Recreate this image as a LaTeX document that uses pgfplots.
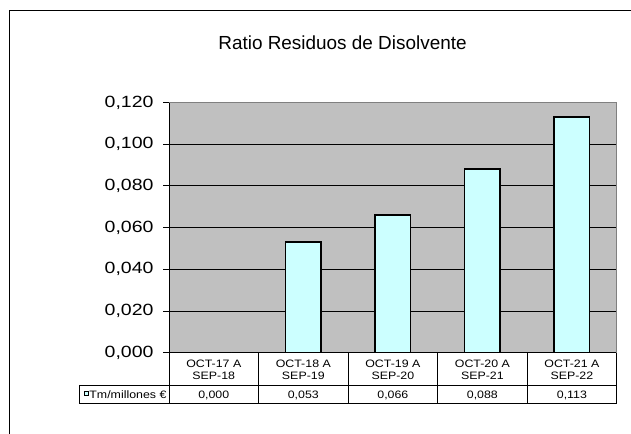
\documentclass[border=0pt]{standalone}
\usepackage{fontspec}
\setmainfont{Liberation Sans}
\newfontfamily\tickfont[FakeStretch=1.2]{Liberation Sans}
\newfontfamily\tabfont[FakeStretch=1.15]{Liberation Sans}
\usepackage{pgfplots}
\pgfplotsset{compat=1.18}
\definecolor{plotgray}{HTML}{C0C0C0}
\definecolor{barcyan}{HTML}{CCFFFF}
\definecolor{bordergray}{HTML}{808080}
\begin{document}
\begin{tikzpicture}[x=1bp,y=1bp]
\path[use as bounding box] (0,0) rectangle (631,434);
\draw[line width=1bp] (9.5,0) -- (9.5,423) -- (631,423);
\node[font=\fontsize{19}{22}\selectfont, anchor=base, inner sep=0pt] at (342.5,384) {Ratio Residuos de Disolvente};
\begin{axis}[
  at={(169bp,81.3bp)}, anchor=south west,
  width=447.7bp, height=250.2bp, scale only axis,
  xmin=-0.5, xmax=4.5, ymin=0, ymax=0.12,
  xtick=\empty,
  ytick={0,0.02,0.04,0.06,0.08,0.1,0.12},
  /pgf/number format/fixed, /pgf/number format/fixed zerofill,
  /pgf/number format/precision=3, /pgf/number format/use comma,
  /pgf/number format/assume math mode=true,
  yticklabel style={font=\tickfont\fontsize{16.3}{19}\selectfont, xshift=-6bp},
  tick align=outside, major tick length=6bp,
  ymajorgrids, grid style={black, line width=0.8bp},
  axis background/.style={fill=plotgray},
  axis x line*=bottom, axis y line*=left,
  axis line style={black, line width=1bp, -},
  ytick style={black, line width=0.8bp},
  ybar, bar width=0.397,
  clip=false,
]
\addplot[fill=barcyan, draw=black, line width=1.5bp] coordinates {(0,0) (1,0.053) (2,0.066) (3,0.088) (4,0.113)};
\draw[bordergray, line width=1.2bp] (rel axis cs:0,1) -- (rel axis cs:1,1) -- (rel axis cs:1,0);
\end{axis}
% data table
\foreach \k in {0,...,5} {\draw[line width=0.8bp] (169+\k*89.54,81.3) -- (169+\k*89.54,30.7);}
\draw[line width=0.8bp] (79.3,49) -- (616.7,49);
\draw[line width=0.8bp] (79.3,30.7) -- (616.7,30.7);
\draw[line width=0.8bp] (79.3,49) -- (79.3,30.7);
\foreach \k/\a/\b/\v in {0/OCT-17 A/SEP-18/{0,000},1/OCT-18 A/SEP-19/{0,053},2/OCT-19 A/SEP-20/{0,066},3/OCT-20 A/SEP-21/{0,088},4/OCT-21 A/SEP-22/{0,113}} {
  \node[font=\tabfont\fontsize{10.8}{12}\selectfont, anchor=base, inner sep=0pt] at (169+\k*89.54+44.77,66.7) {\a};
  \node[font=\tabfont\fontsize{10.8}{12}\selectfont, anchor=base, inner sep=0pt] at (169+\k*89.54+44.77,54.7) {\b};
  \node[font=\tabfont\fontsize{10.8}{12}\selectfont, anchor=base, inner sep=0pt] at (169+\k*89.54+44.77,35) {\v};
}
\draw[fill=barcyan, line width=0.9bp] (84.2,38.2) rectangle (88.4,42.4);
\node[font=\tabfont\fontsize{10.8}{12}\selectfont, anchor=base west, inner sep=0pt] at (89.2,35) {Tm/millones €};
\end{tikzpicture}
\end{document}
